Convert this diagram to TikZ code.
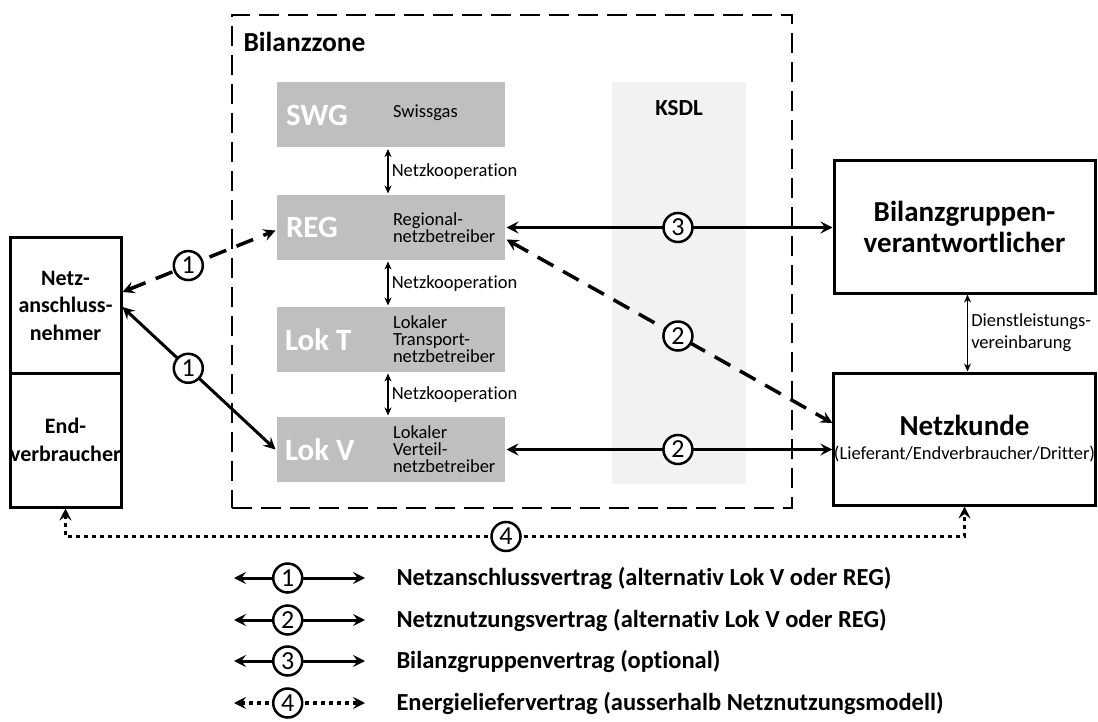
\documentclass[tikz,border=0pt]{standalone}
\usepackage{fontspec}
\setmainfont{Carlito}[Ligatures=NoCommon]
\usetikzlibrary{arrows.meta,shapes}
\definecolor{boxgray}{RGB}{191,191,191}
\definecolor{ksdlgray}{RGB}{242,242,242}
\newlength{\lw}
\setlength{\lw}{3pt}
\tikzstyle{every picture}+=[x=1pt,y=-1pt]
\tikzstyle{every picture}+=[>={Stealth[length=12pt,width=12pt,inset=4.5pt]}]
\tikzstyle{every picture}+=[line width=\lw]
\tikzstyle{every picture}+=[join=miter]
\tikzstyle{gbox}=[fill=boxgray, minimum width=228pt, minimum height=65pt, inner sep=0pt]
\tikzstyle{kurz}=[anchor=west, text=white, font=\fontsize{31}{31}\selectfont\bfseries, inner sep=0pt]
\tikzstyle{lang}=[anchor=west, align=left, font=\fontsize{18.5}{17}\selectfont, inner sep=0pt]
\tikzstyle{wbox}=[draw, fill=white, align=center, inner sep=0pt]
\tikzstyle{vertrag}=[circle, draw, fill=white, line width=2.5pt, inner sep=0pt, minimum size=29pt, font=\fontsize{26}{26}\selectfont]
\tikzstyle{koop}=[<->, line width=1.5pt, >={Stealth[length=8pt,width=7pt,inset=2.5pt]}]
\tikzstyle{gestrichelt}=[line width=3.5pt, dash pattern=on 18pt off 11pt]
\tikzstyle{gepunktet}=[line width=3.5pt, dash pattern=on 4pt off 4pt]
\tikzstyle{klein}=[font=\fontsize{18.5}{22}\selectfont, inner sep=3pt]
\newcommand{\gross}[1]{{\fontsize{29}{31}\selectfont\bfseries #1}}

\begin{document}
\begin{tikzpicture}
\useasboundingbox (0,0) rectangle (1098,722);

% Bilanzzone und KSDL
\node[draw, line width=2.5pt, dash pattern=on 20pt off 9pt, minimum width=560pt, minimum height=493pt] (zone) at (512,261.5) {};
\node[anchor=west, font=\fontsize{27.5}{27.5}\selectfont\bfseries, inner sep=0pt] (zonetxt) at (242,42) {Bilanzzone};
\node[fill=ksdlgray, minimum width=134pt, minimum height=402pt] (ksdl) at (679,283) {};
\node[font=\fontsize{23}{23}\selectfont\bfseries] (ksdltxt) at (679,108) {KSDL};

% Netzbetreiber
\node[gbox] (swg) at (391,115) {};
\node[gbox] (reg) at (391,227.5) {};
\node[gbox] (lokt) at (391,339.5) {};
\node[gbox] (lokv) at (391,449.5) {};
\node[kurz] (swgk) at ([xshift=9pt]swg.west) {SWG};
\node[kurz] (regk) at ([xshift=9pt]reg.west) {REG};
\node[kurz] (loktk) at ([xshift=8pt]lokt.west) {Lok T};
\node[kurz] (lokvk) at ([xshift=8pt]lokv.west) {Lok V};
\node[lang] (swgl) at ([xshift=116pt,yshift=2pt]swg.west) {Swissgas};
\node[lang] (regl) at ([xshift=116pt]reg.west) {Regional-\\netzbetreiber};
\node[lang] (loktl) at ([xshift=116pt]lokt.west) {Lokaler\\Transport-\\netzbetreiber};
\node[lang] (lokvl) at ([xshift=116pt]lokv.west) {Lokaler\\Verteil-\\netzbetreiber};

\path[koop]
   ([xshift=-3pt]swg.south) edge node[klein, right] {Netzkooperation} ([xshift=-3pt]reg.north)
   ([xshift=-3pt]reg.south) edge node[klein, right] {Netzkooperation} ([xshift=-3pt]lokt.north)
   ([xshift=-3pt]lokt.south) edge node[klein, right] {Netzkooperation} ([xshift=-3pt]lokv.north)
;

% Marktpartner
\node[wbox, minimum width=111pt, minimum height=135pt, font=\fontsize{22}{27.5}\selectfont\bfseries] (nan) at (65.5,305.5) {Netz-\\anschluss-\\nehmer};
\node[wbox, minimum width=111pt, minimum height=134pt, font=\fontsize{22}{27.5}\selectfont\bfseries] (endv) at (65.5,440) {End-\\verbraucher};
\node[wbox, minimum width=261pt, minimum height=132pt, font=\fontsize{18.5}{31}\selectfont] (bgv) at (964.5,227) {\gross{Bilanzgruppen-}\\\gross{verantwortlicher}};
\node[wbox, minimum width=261pt, minimum height=132pt, font=\fontsize{18.5}{24}\selectfont] (nk) at (964.5,439) {\gross{Netzkunde}\\(Lieferant/Endverbraucher/Dritter)};

\path[koop]
   ([xshift=3pt]bgv.south) edge node[klein, right, align=left] {Dienstleistungs-\\vereinbarung} ([xshift=3pt]nk.north)
;

% Vertraege
\draw[<->, gestrichelt] ([yshift=13.5pt]nan.east) -- node[vertrag, pos=0.43, solid] {1} ([yshift=-3pt]reg.west);
\draw[<->] ([yshift=-1.5pt]nan.east) -- node[vertrag, pos=0.43] {1} (lokv.west);
\draw[<->] (reg.east) -- node[vertrag, pos=0.526] {3} (reg.east -| bgv.west);
\draw[<->, gestrichelt] ([yshift=-12pt]reg.east) -- node[vertrag, pos=0.526, solid] {2} ([yshift=16pt]nk.west);
\draw[<->] (lokv.east) -- node[vertrag, pos=0.526] {2} (lokv.east -| nk.west);
\draw[<->, gepunktet] (endv.south) -- ([yshift=-28pt]endv.south) -- node[vertrag, pos=0.49, solid] {4} ([yshift=-30pt]nk.south) -- (nk.south);

% Legende
\foreach \n/\y/\art/\txt in {1/578/solid/{Netzanschlussvertrag (alternativ Lok V oder REG)},
                              2/620/solid/{Netznutzungsvertrag (alternativ Lok V oder REG)},
                              3/661/solid/{Bilanzgruppenvertrag (optional)},
                              4/703/gepunktet/{Energieliefervertrag (ausserhalb Netznutzungsmodell)}}
{
  \coordinate (la\n) at (234,\y);
  \coordinate (lb\n) at (365,\y);
  \draw[<->, \art] (la\n) -- node[vertrag, pos=0.41, solid] {\n} (lb\n);
  \node[anchor=west, font=\fontsize{24.5}{25}\selectfont\bfseries, inner sep=0pt] (lt\n) at (395,\y) {\txt};
}
\end{tikzpicture}
\end{document}
